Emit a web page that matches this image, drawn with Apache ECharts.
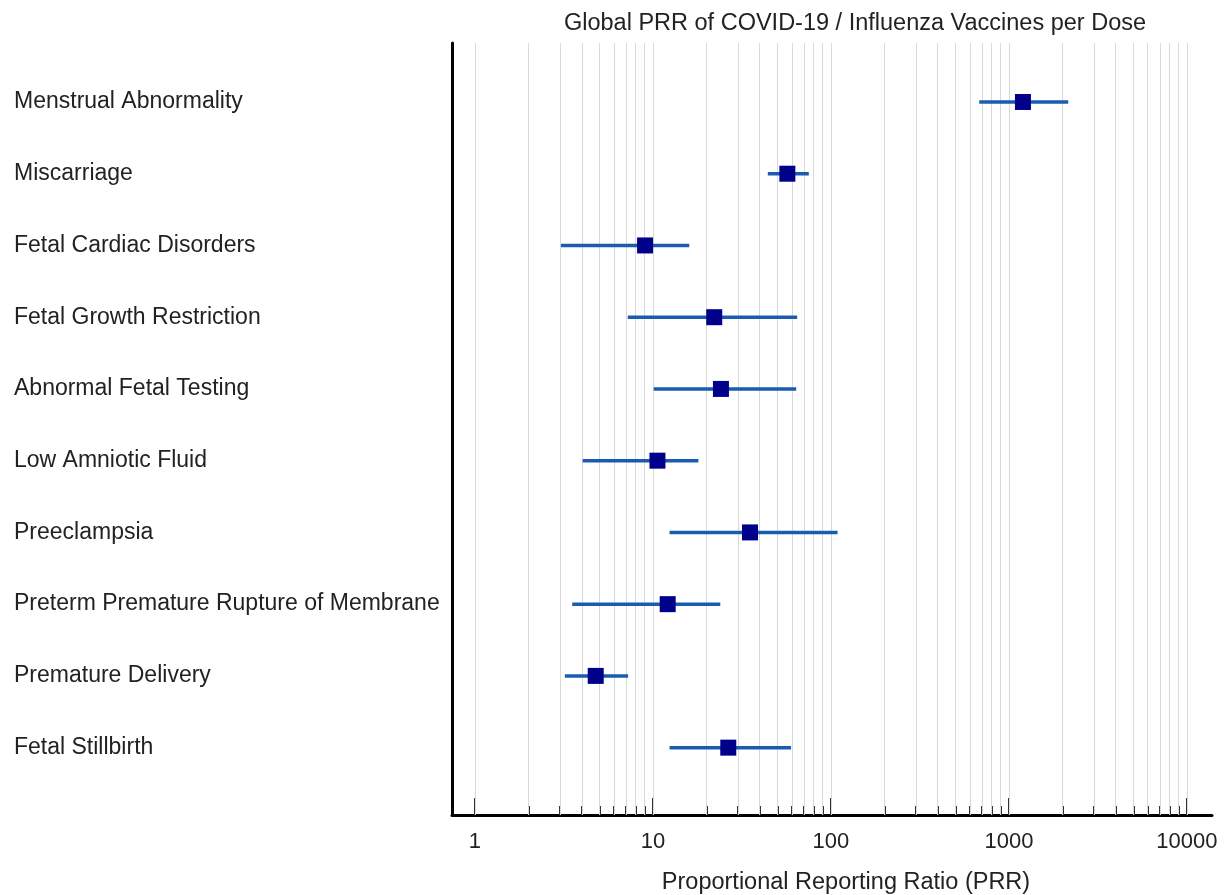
<!DOCTYPE html>
<html>
<head>
<meta charset="utf-8">
<script src="https://cdn.jsdelivr.net/npm/echarts@6/dist/echarts.min.js"></script>
<style>html,body{margin:0;padding:0;background:#fff}#c{width:1230px;height:895px}</style>
</head>
<body>
<div id="c"></div>
<script>
const categories = ['Menstrual Abnormality','Miscarriage','Fetal Cardiac Disorders','Fetal Growth Restriction','Abnormal Fetal Testing','Low Amniotic Fluid','Preeclampsia','Preterm Premature Rupture of Membrane','Premature Delivery','Fetal Stillbirth'];
const prr    = [1199, 56.9, 9.03, 22.1, 24.1, 10.6, 35.1, 12.1, 4.77, 26.5];
const ciLow  = [681, 44.2, 3.04, 7.22, 10.1, 4.03, 12.4, 3.52, 3.2, 12.4];
const ciHigh = [2155, 75.1, 16.0, 64.6, 63.8, 18.0, 109, 23.9, 7.25, 59.7];
const majorTicks = [1, 10, 100, 1000, 10000];
const minorMultipliers = [2, 3, 4, 5, 6, 7, 8, 9];
const titleText = 'Global PRR of COVID-19 / Influenza Vaccines per Dose';
const xAxisTitle = 'Proportional Reporting Ratio (PRR)';

const FONT = '"Liberation Sans", Arial, sans-serif';
const lg = v => Math.log10(v);
const majorLog = majorTicks.map(lg);
const minorLog = [];
for (let i = 0; i < majorTicks.length - 1; i++) {
  minorMultipliers.forEach(m => minorLog.push(lg(majorTicks[i] * m)));
}
const gridLog = majorLog.concat(minorLog);
const xMin = -0.129, xMax = 4.141;
const yMin = -0.822, yMax = 9.939;
const rowIdx = categories.map((_, i) => i);

const chart = echarts.init(document.getElementById('c'), null, {renderer: 'canvas'});
chart.setOption({
  animation: false,
  backgroundColor: '#fff',
  title: {
    text: titleText, left: 850, top: 7, textAlign: 'center',
    textStyle: {fontFamily: FONT, fontSize: 23.5, fontWeight: 'normal', color: '#222'}
  },
  grid: {left: 452, right: 18, top: 43, bottom: 80, containLabel: false, outerBoundsMode: 'none'},
  xAxis: [{
    type: 'value', min: xMin, max: xMax,
    name: xAxisTitle, nameLocation: 'middle', nameGap: 56,
    nameTextStyle: {fontFamily: FONT, fontSize: 23.5, color: '#222', padding: [0, 0, 0, 28]},
    axisLine: {show: true, onZero: false, lineStyle: {color: '#000', width: 3}},
    axisTick: {show: true, inside: true, length: 17, customValues: majorLog, lineStyle: {color: '#333', width: 2}},
    axisLabel: {customValues: majorLog, margin: 16, fontFamily: FONT, fontSize: 22, color: '#222',
      formatter: v => String(Math.round(Math.pow(10, v)))},
    splitLine: {show: false}
  }, {
    type: 'value', min: xMin, max: xMax, position: 'bottom',
    axisLine: {show: false, onZero: false},
    axisTick: {show: true, inside: true, length: 9, customValues: minorLog, lineStyle: {color: '#333', width: 2}},
    axisLabel: {show: false},
    splitLine: {show: false}
  }],
  yAxis: {
    type: 'value', inverse: true, min: yMin, max: yMax,
    axisLine: {show: true, onZero: false, lineStyle: {color: '#000', width: 3}},
    axisTick: {show: false},
    splitLine: {show: false},
    axisLabel: {customValues: rowIdx, align: 'left', margin: 438, padding: [6, 0, 0, 0], fontFamily: FONT, fontSize: 23, color: '#222',
      formatter: v => categories[Math.round(v)] || ''}
  },
  series: [{
    type: 'line', data: [], silent: true, z: 1,
    markLine: {
      z: 1, silent: true, symbol: 'none', animation: false,
      label: {show: false},
      lineStyle: {color: '#d9d9d9', width: 1, type: 'solid'},
      data: gridLog.map(v => ({xAxis: v}))
    }
  }, {
    type: 'custom', z: 3, xAxisIndex: 0,
    data: rowIdx.map(i => [lg(ciLow[i]), lg(ciHigh[i]), i]),
    encode: {x: [0, 1], y: 2},
    renderItem: (params, api) => {
      const a = api.coord([api.value(0), api.value(2)]);
      const b = api.coord([api.value(1), api.value(2)]);
      return {type: 'line', shape: {x1: a[0], y1: a[1], x2: b[0], y2: b[1]},
        style: {stroke: '#1a5cb0', lineWidth: 3.5}};
    }
  }, {
    type: 'scatter', z: 4, xAxisIndex: 0,
    symbol: 'rect', symbolSize: 16,
    itemStyle: {color: '#00008b', opacity: 1},
    data: rowIdx.map(i => [lg(prr[i]), i])
  }]
});
</script>
</body>
</html>
